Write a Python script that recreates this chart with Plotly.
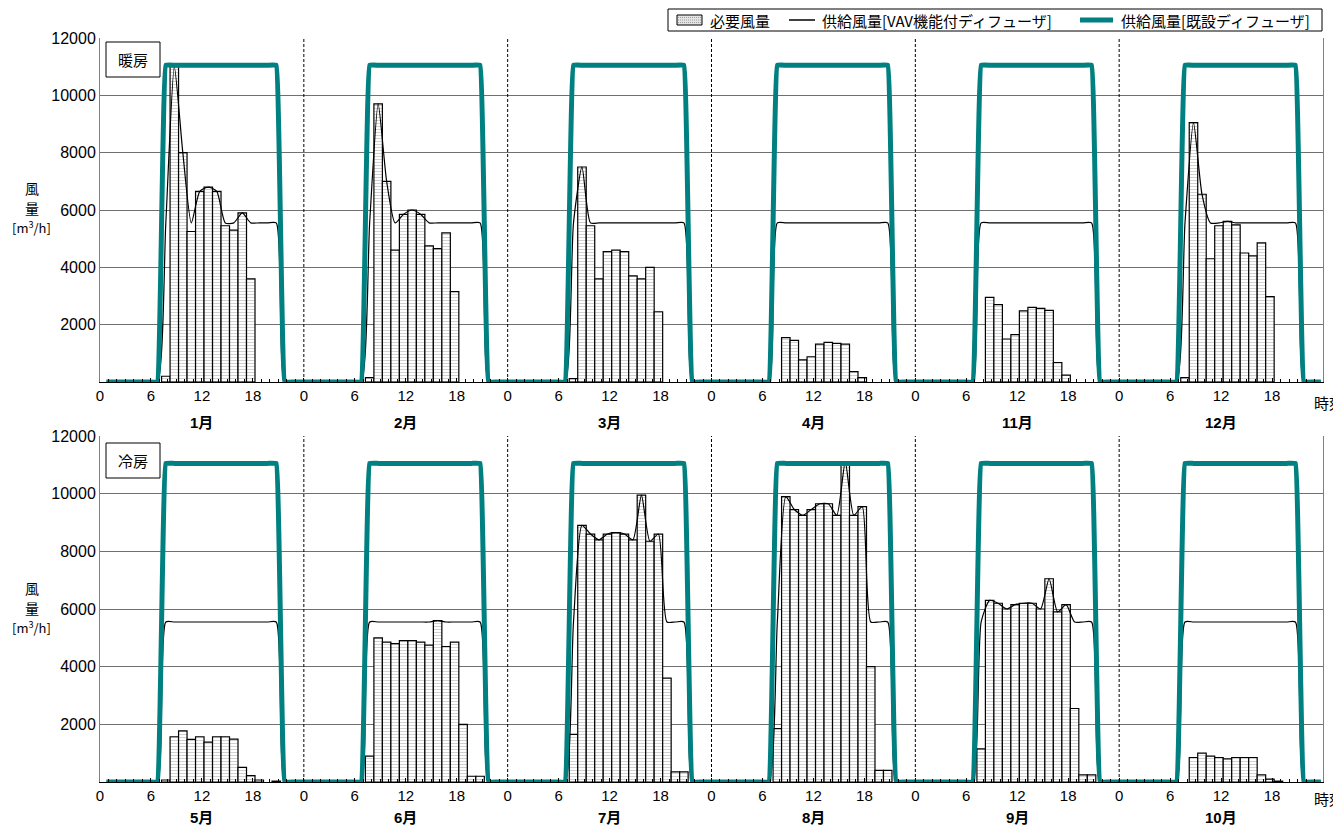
import plotly.graph_objects as go

# ---------------- data (hourly, index = hour 0..23) ----------------
months_top = ["1月", "2月", "3月", "4月", "11月", "12月"]
months_bottom = ["5月", "6月", "7月", "8月", "9月", "10月"]
tick_hours = [0, 6, 12, 18]
tick_text = ["0", "6", "12", "18"]

# required airflow (必要風量) [m3/h]
req_top = [
    [0, 0, 0, 0, 0, 0, 0, 200, 11000, 8000, 5250, 6650, 6800, 6650, 5450, 5300, 5900, 3600, 0, 0, 0, 0, 0, 0],
    [0, 0, 0, 0, 0, 0, 0, 150, 9700, 7000, 4600, 5850, 6000, 5850, 4750, 4650, 5200, 3150, 0, 0, 0, 0, 0, 0],
    [0, 0, 0, 0, 0, 0, 0, 120, 7500, 5450, 3600, 4550, 4600, 4550, 3700, 3600, 4000, 2450, 0, 0, 0, 0, 0, 0],
    [0, 0, 0, 0, 0, 0, 0, 0, 1550, 1450, 770, 880, 1320, 1380, 1350, 1320, 360, 150, 0, 0, 0, 0, 0, 0],
    [0, 0, 0, 0, 0, 0, 0, 0, 2950, 2700, 1500, 1650, 2480, 2600, 2570, 2500, 680, 240, 0, 0, 0, 0, 0, 0],
    [0, 0, 0, 0, 0, 0, 0, 150, 9050, 6550, 4300, 5450, 5600, 5480, 4500, 4400, 4850, 2980, 0, 0, 0, 0, 0, 0],
]
req_bottom = [
    [0, 0, 0, 0, 0, 0, 0, 70, 1570, 1770, 1480, 1570, 1380, 1570, 1570, 1490, 510, 220, 70, 0, 30, 0, 0, 0],
    [0, 0, 0, 0, 0, 0, 0, 900, 5000, 4850, 4800, 4900, 4900, 4850, 4750, 5600, 4700, 4850, 2000, 200, 200, 0, 0, 0],
    [0, 0, 0, 0, 0, 0, 0, 1650, 8900, 8600, 8400, 8600, 8650, 8600, 8400, 9950, 8350, 8600, 3600, 350, 350, 0, 0, 0],
    [0, 0, 0, 0, 0, 0, 0, 1850, 9900, 9450, 9250, 9450, 9650, 9650, 9250, 11100, 9250, 9550, 4000, 400, 400, 0, 0, 0],
    [0, 0, 0, 0, 0, 0, 0, 1150, 6300, 6200, 6000, 6150, 6200, 6200, 6000, 7050, 5900, 6150, 2550, 250, 250, 0, 0, 0],
    [0, 0, 0, 0, 0, 0, 0, 0, 850, 1000, 900, 850, 800, 850, 850, 850, 250, 100, 30, 0, 0, 0, 0, 0],
]
# supply airflow, VAV diffuser (供給風量[VAV機能付ディフューザ])
vav_top = [
    [0, 0, 0, 0, 0, 0, 0, 5550, 11000, 8000, 5550, 6650, 6800, 6650, 5550, 5550, 5900, 5550, 5550, 5550, 5550, 0, 0, 0],
    [0, 0, 0, 0, 0, 0, 0, 5550, 9700, 7000, 5550, 5850, 6000, 5850, 5550, 5550, 5550, 5550, 5550, 5550, 5550, 0, 0, 0],
    [0, 0, 0, 0, 0, 0, 0, 5550, 7500, 5550, 5550, 5550, 5550, 5550, 5550, 5550, 5550, 5550, 5550, 5550, 5550, 0, 0, 0],
    [0, 0, 0, 0, 0, 0, 0, 5550, 5550, 5550, 5550, 5550, 5550, 5550, 5550, 5550, 5550, 5550, 5550, 5550, 5550, 0, 0, 0],
    [0, 0, 0, 0, 0, 0, 0, 5550, 5550, 5550, 5550, 5550, 5550, 5550, 5550, 5550, 5550, 5550, 5550, 5550, 5550, 0, 0, 0],
    [0, 0, 0, 0, 0, 0, 0, 5550, 9050, 6550, 5550, 5550, 5600, 5550, 5550, 5550, 5550, 5550, 5550, 5550, 5550, 0, 0, 0],
]
vav_bottom = [
    [0, 0, 0, 0, 0, 0, 0, 5550, 5550, 5550, 5550, 5550, 5550, 5550, 5550, 5550, 5550, 5550, 5550, 5550, 5550, 0, 0, 0],
    [0, 0, 0, 0, 0, 0, 0, 5550, 5550, 5550, 5550, 5550, 5550, 5550, 5550, 5600, 5550, 5550, 5550, 5550, 5550, 0, 0, 0],
    [0, 0, 0, 0, 0, 0, 0, 5550, 8900, 8600, 8400, 8600, 8650, 8600, 8400, 9950, 8350, 8600, 5550, 5550, 5550, 0, 0, 0],
    [0, 0, 0, 0, 0, 0, 0, 5550, 9900, 9450, 9250, 9450, 9650, 9650, 9250, 11100, 9250, 9550, 5550, 5550, 5550, 0, 0, 0],
    [0, 0, 0, 0, 0, 0, 0, 5550, 6300, 6200, 6000, 6150, 6200, 6200, 6000, 7050, 5900, 6150, 5550, 5550, 5550, 0, 0, 0],
    [0, 0, 0, 0, 0, 0, 0, 5550, 5550, 5550, 5550, 5550, 5550, 5550, 5550, 5550, 5550, 5550, 5550, 5550, 5550, 0, 0, 0],
]
# supply airflow, existing diffuser (供給風量[既設ディフューザ]) - same every month
existing_day = [0, 0, 0, 0, 0, 0, 0, 11050, 11050, 11050, 11050, 11050, 11050, 11050,
                11050, 11050, 11050, 11050, 11050, 11050, 11050, 0, 0, 0]

y_ticks = [2000, 4000, 6000, 8000, 10000, 12000]
y_tick_text = ["2000", "4000", "6000", "8000", "10000", "12000"]
legend_names = ["必要風量", "供給風量[VAV機能付ディフューザ]", "供給風量[既設ディフューザ]"]

# ---------------- figure ----------------
FONT = "Arial, 'Liberation Sans', 'Noto Sans CJK JP', sans-serif"
JP = "'Noto Sans CJK JP', sans-serif"
TEAL = "#008080"
OFF = 8                       # default page margin of the html body
PAGE_W, PAGE_H = 1341, 827
W, H = PAGE_W - OFF, PAGE_H - OFF
# plot area in page pixels: x 100..1323 ; top row 38..382 ; bottom row 436..782
ML, MR, MT, MB = 100 - OFF, PAGE_W - 1323, 38 - OFF, PAGE_H - 782
PH = H - MT - MB
PW = W - ML - MR


def py(pix):          # page pixel -> paper y
    return (PAGE_H - MB - pix) / PH


def px(pix):          # page pixel -> paper x
    return (pix - OFF - ML) / PW


fig = go.Figure()
PATTERN = dict(shape="-", size=3, solidity=0.3, fgcolor="#9a9a9a", bgcolor="white")


def add_row(req, vav, xa, ya):
    bx, by, lx, ly, ex, ey = [], [], [], [], [], []
    for p in range(6):
        for h in range(24):
            x = 24 * p + h + 0.75
            if req[p][h] > 0:
                bx.append(x)
                by.append(req[p][h])
            lx.append(x)
            ly.append(vav[p][h])
            ex.append(x)
            ey.append(existing_day[h])
    fig.add_trace(go.Bar(
        x=bx, y=by, width=1.0, xaxis=xa, yaxis=ya, name=legend_names[0], showlegend=False,
        marker=dict(color="white", line=dict(color="black", width=1.2), pattern=PATTERN),
    ))
    fig.add_trace(go.Scatter(
        x=lx, y=ly, mode="lines", xaxis=xa, yaxis=ya, name=legend_names[1], showlegend=False,
        line=dict(color="black", width=1.2, shape="spline", smoothing=0.6),
    ))
    fig.add_trace(go.Scatter(
        x=ex, y=ey, mode="lines", xaxis=xa, yaxis=ya, name=legend_names[2], showlegend=False,
        line=dict(color=TEAL, width=5, shape="spline", smoothing=0.2),
    ))


add_row(req_top, vav_top, "x", "y")
add_row(req_bottom, vav_bottom, "x2", "y2")

tickvals = [24 * p + t for p in range(6) for t in tick_hours]
ticktext = [tick_text[i] for p in range(6) for i in range(4)]

xcommon = dict(range=[0, 144], tickvals=tickvals, ticktext=ticktext,
               ticks="inside", ticklen=4, tickcolor="black",
               minor=dict(dtick=1, ticks="inside", ticklen=3, tickcolor="black"),
               showline=True, linecolor="black", linewidth=1, showgrid=False,
               zeroline=False, tickfont=dict(size=15, color="black", family=FONT))
ycommon = dict(range=[0, 12000], tickvals=y_ticks, ticktext=y_tick_text, showgrid=True,
               gridcolor="#707070", gridwidth=1, showline=True, linecolor="#808080",
               linewidth=1, mirror=True, ticks="", zeroline=False,
               tickfont=dict(size=16, color="black", family=FONT))

top_dom = [py(382), 1.0]
bot_dom = [0.0, py(436)]

fig.update_layout(
    width=W, height=H,
    margin=dict(l=ML, r=MR, t=MT, b=MB, autoexpand=False),
    paper_bgcolor="white", plot_bgcolor="white",
    font=dict(family=FONT, color="black"),
    barmode="overlay", showlegend=False,
    xaxis=dict(domain=[0, 1], anchor="y", **xcommon),
    yaxis=dict(domain=top_dom, anchor="x", **ycommon),
    xaxis2=dict(domain=[0, 1], anchor="y2", **xcommon),
    yaxis2=dict(domain=bot_dom, anchor="x2", **ycommon),
)

# month separators
for p in range(1, 6):
    for xa, ya in (("x", "y"), ("x2", "y2")):
        fig.add_shape(type="line", xref=xa, yref=ya + " domain", x0=24 * p, x1=24 * p,
                      y0=0, y1=1, line=dict(color="black", width=1, dash="3px,2px"))

ann = []


def text(xp, yp, s, size=15, family=JP, xanchor="center"):
    ann.append(dict(x=px(xp), y=py(yp), xref="paper", yref="paper", text=s,
                    xanchor=xanchor, yanchor="middle", showarrow=False,
                    font=dict(size=size, family=family, color="black")))


for p in range(6):
    ann.append(dict(x=24 * p + 12, xref="x", y=py(422), yref="paper", text=f"<b>{months_top[p]}</b>",
                    xanchor="center", yanchor="middle", showarrow=False, font=dict(size=15, family=FONT)))
    ann.append(dict(x=24 * p + 12, xref="x2", y=py(817), yref="paper", text=f"<b>{months_bottom[p]}</b>",
                    xanchor="center", yanchor="middle", showarrow=False, font=dict(size=15, family=FONT)))

for y0 in (0, 400):
    text(32, 188 + y0, "風", 14)
    text(32, 208 + y0, "量", 14)
    text(31, 227 + y0, "[m<sup>3</sup>/h]", 13)
text(1312, 402, "時刻", 15, xanchor="left")
text(1312, 798, "時刻", 15, xanchor="left")

# mode boxes
for (y0, y1, txt) in ((42, 77, "暖房"), (443, 478, "冷房")):
    fig.add_shape(type="rect", xref="paper", yref="paper", x0=px(106), x1=px(160),
                  y0=py(y1), y1=py(y0), line=dict(color="black", width=1), fillcolor="white")
    text(133, (y0 + y1) / 2, txt, 15)

# legend (drawn manually to match layout)
fig.add_shape(type="rect", xref="paper", yref="paper", x0=px(668), x1=px(1322),
              y0=py(31), y1=py(9), line=dict(color="black", width=1), fillcolor="white")
fig.add_shape(type="rect", xref="paper", yref="paper", x0=px(677), x1=px(702),
              y0=py(25), y1=py(15), line=dict(color="black", width=1), fillcolor="#e4e4e4")
for yy in (17.5, 20, 22.5):
    fig.add_shape(type="line", xref="paper", yref="paper", x0=px(678), x1=px(701),
                  y0=py(yy), y1=py(yy), line=dict(color="#a0a0a0", width=1, dash="1px,1px"))
text(708, 20, legend_names[0], 15, xanchor="left")
fig.add_shape(type="line", xref="paper", yref="paper", x0=px(789), x1=px(815),
              y0=py(20), y1=py(20), line=dict(color="black", width=1.5))
text(820, 20, legend_names[1], 15, xanchor="left")
fig.add_shape(type="line", xref="paper", yref="paper", x0=px(1080), x1=px(1113),
              y0=py(20), y1=py(20), line=dict(color=TEAL, width=5))
text(1119, 20, legend_names[2], 15, xanchor="left")

fig.update_layout(annotations=ann)
fig.write_html("out.html")
